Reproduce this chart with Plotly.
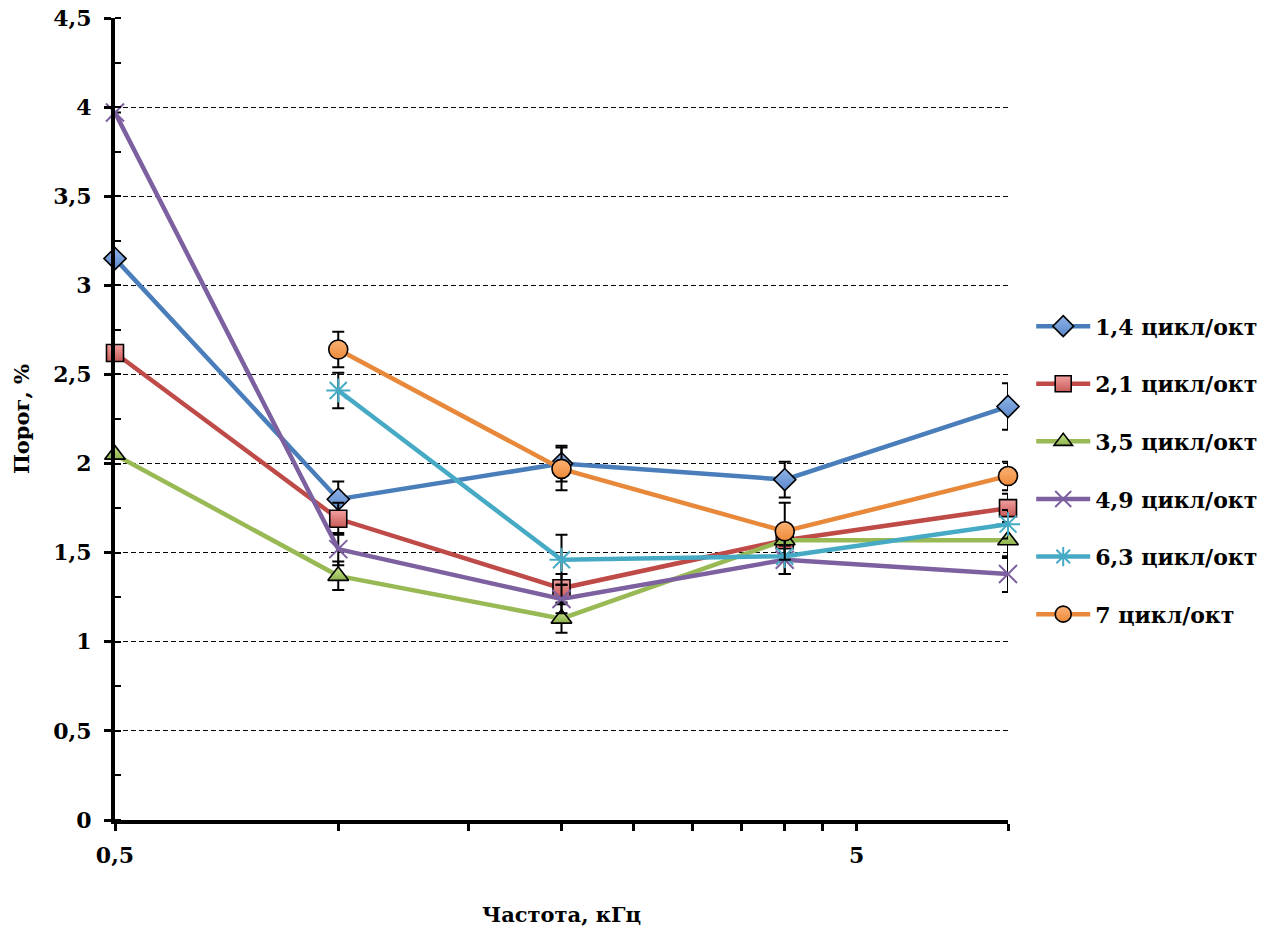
import plotly.graph_objects as go

# Stimulus frequency, kHz
freq_khz = [0.5, 1, 2, 4, 8]

# Series labels (spatial frequency of the ripple, cycles/octave)
series_names = ["1,4 цикл/окт", "2,1 цикл/окт", "3,5 цикл/окт",
                "4,9 цикл/окт", "6,3 цикл/окт", "7 цикл/окт"]

# Threshold, %
thr_14 = [3.15, 1.80, 2.00, 1.91, 2.32]
thr_21 = [2.62, 1.69, 1.30, 1.57, 1.75]
thr_35 = [2.05, 1.37, 1.13, 1.57, 1.57]
thr_49 = [3.97, 1.52, 1.24, 1.46, 1.38]
thr_63 = [None, 2.41, 1.46, 1.48, 1.66]
thr_7 = [None, 2.64, 1.97, 1.62, 1.93]

# Standard errors, %
err_14 = [0, 0.10, 0.10, 0.10, 0.13]
err_21 = [0, 0.09, 0.08, 0.08, 0.08]
err_35 = [0, 0.08, 0.08, 0.08, 0.10]
err_49 = [0, 0.09, 0.08, 0.08, 0.10]
err_63 = [0, 0.10, 0.14, 0.10, 0.08]
err_7 = [0, 0.10, 0.12, 0.16, 0.08]

# Axis tick values
y_ticks = [0, 0.5, 1, 1.5, 2, 2.5, 3, 3.5, 4, 4.5]
x_ticks = [0.5, 1, 1.5, 2, 2.5, 3, 3.5, 4, 4.5, 5, 8]
x_tick_text = ["0,5", "", "", "", "", "", "", "", "", "5", ""]

# line colour, symbol, fill, fill shade, outline, size
series = [
    (thr_14, err_14, "#4A7EBB", "diamond", "#8FB4EA", "#5A86C8", "black", 17),
    (thr_21, err_21, "#BE4B48", "square", "#F2A0A0", "#C85A58", "black", 17),
    (thr_35, err_35, "#98B954", "triangle-up", "#C6E38E", "#8DB24C", "black", 18),
    (thr_49, err_49, "#7D60A0", "x-thin-open", "#7D60A0", None, "#7D60A0", 18),
    (thr_63, err_63, "#46AAC5", "asterisk-open", "#46AAC5", None, "#46AAC5", 20),
    (thr_7, err_7, "#E8883A", "circle", "#FBB274", "#EE8A3A", "black", 19),
]

serif = "DejaVu Serif"

fig = go.Figure()
for name, (vals, errs, lc, sym, fill, shade, edge, size) in zip(series_names, series):
    thin = sym.endswith("-open")
    marker = dict(symbol=sym, size=size, color=fill,
                  line=dict(color=edge, width=2 if thin else 1.6))
    if shade:
        marker["gradient"] = dict(type="vertical", color=shade)
    fig.add_trace(go.Scatter(
        x=freq_khz, y=vals, name=name, mode="lines+markers",
        legendgroup=name, cliponaxis=False,
        line=dict(color=lc, width=4.5),
        marker=marker,
        error_y=dict(type="data", array=errs, visible=True,
                     color="black", thickness=2, width=6),
        connectgaps=False,
    ))

fig.update_layout(
    width=1278, height=930,
    margin=dict(l=115, r=270, t=18, b=110),
    paper_bgcolor="white", plot_bgcolor="white",
    separators=", ",
    font=dict(family=serif, color="black", size=20, weight="bold"),
    legend=dict(
        x=1.026, xanchor="left", y=0.436, yanchor="middle",
        font=dict(family=serif, size=22, weight="bold", color="black"),
        tracegroupgap=26, itemwidth=54, bgcolor="rgba(0,0,0,0)",
    ),
    showlegend=True,
)

fig.update_xaxes(
    type="log", range=[-0.30103, 0.90309], automargin=False,
    tickmode="array", tickvals=x_ticks, ticktext=x_tick_text,
    ticks="outside", ticklen=7, tickwidth=3, tickcolor="black",
    ticklabelstandoff=6,
    showline=True, linecolor="black", linewidth=4,
    showgrid=False, zeroline=False,
    tickfont=dict(family=serif, size=22, weight="bold"),
    title=dict(text="Частота, кГц", standoff=41,
               font=dict(family=serif, size=21, weight="bold")),
)

fig.update_yaxes(
    range=[0, 4.5], automargin=False,
    tickmode="array", tickvals=y_ticks,
    ticks="outside", ticklen=7, tickwidth=3, tickcolor="black",
    ticklabelstandoff=8,
    minor=dict(ticks="inside", dtick=0.25, ticklen=6, tickwidth=2,
               tickcolor="black", showgrid=False),
    showline=True, linecolor="black", linewidth=4,
    showgrid=True, gridcolor="black", gridwidth=1, griddash="5px,3px",
    zeroline=False,
    tickfont=dict(family=serif, size=22, weight="bold"),
    title=dict(text="Порог, %", standoff=19,
               font=dict(family=serif, size=21, weight="bold")),
)

# Second x axis overlaid to give the crossing (inside) half of each tick
fig.update_layout(xaxis2=dict(
    type="log", range=[-0.30103, 0.90309], overlaying="x", side="bottom",
    anchor="y", automargin=False,
    tickmode="array", tickvals=x_ticks, ticktext=[""] * len(x_ticks),
    ticks="inside", ticklen=7, tickwidth=3, tickcolor="black",
    showline=False, showgrid=False, zeroline=False,
))

fig.write_html("out.html")
